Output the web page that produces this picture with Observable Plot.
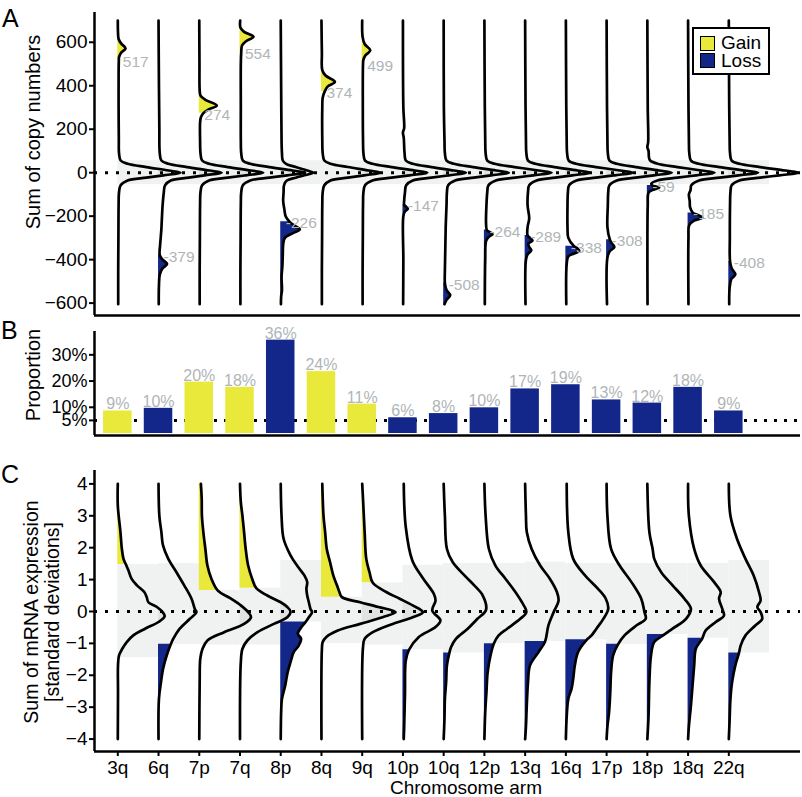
<!DOCTYPE html>
<html><head><meta charset="utf-8">
<script src="https://cdn.jsdelivr.net/npm/d3@7"></script>
<script src="https://cdn.jsdelivr.net/npm/@observablehq/plot@0.6"></script>
<style>
html,body{margin:0;padding:0;background:#fff;}
#wrap{position:relative;width:802px;height:797px;overflow:hidden;font-family:"Liberation Sans",Arial,Helvetica,sans-serif;color:#000;}
.panel{position:absolute;left:0;}
.lbl{position:absolute;white-space:nowrap;}
.rot{transform:translate(-50%,-50%) rotate(-90deg);}
.letter{font-size:25px;line-height:25px;}
.sw{position:absolute;width:15px;height:15px;box-sizing:border-box;border:1.5px solid #000;}
</style></head>
<body><div id="wrap">
<div class="panel" id="pA" style="top:0"></div>
<div class="panel" id="pB" style="top:318px"></div>
<div class="panel" id="pC" style="top:455px"></div>
<div class="lbl letter" style="left:2px;top:6px">A</div>
<div class="lbl letter" style="left:1px;top:318px">B</div>
<div class="lbl letter" style="left:1px;top:462px">C</div>
<div class="lbl rot" style="left:33px;top:132px;font-size:20px;line-height:20px">Sum of copy numbers</div>
<div class="lbl rot" style="left:33px;top:375px;font-size:20px;line-height:20px">Proportion</div>
<div class="lbl rot" style="left:31px;top:612px;font-size:19.5px;line-height:20px">Sum of mRNA expression</div>
<div class="lbl rot" style="left:52px;top:612px;font-size:19.5px;line-height:20px">[standard deviations]</div>
<div class="lbl" style="left:466px;top:779px;transform:translateX(-50%);font-size:19px;line-height:17px">Chromosome arm</div>
<div id="legend" style="position:absolute;left:692px;top:27px;width:78px;height:48px;box-sizing:border-box;border:2px solid #000;background:#fff;">
  <div class="sw" id="swGain" style="left:6px;top:7px"></div>
  <div class="sw" id="swLoss" style="left:6px;top:24px"></div>
  <div class="lbl" style="left:27px;top:5px;font-size:19px;line-height:17px">Gain</div>
  <div class="lbl" style="left:27px;top:23px;font-size:19px;line-height:17px">Loss</div>
</div>
</div>
<script>
// ---------------- data ----------------
const categories = ["3q","6q","7p","7q","8p","8q","9q","10p","10q","12p","13q","16q","17p","18p","18q","22q"];
const alteration = ["gain","loss","gain","gain","loss","gain","gain","loss","loss","loss","loss","loss","loss","loss","loss","loss"];

// Panel A: threshold (labelled) sums of copy numbers
const copyThreshold = [517,-379,274,554,-226,374,499,-147,-508,-264,-289,-338,-308,-59,-185,-408];
const copyTicks = [-600,-400,-200,0,200,400,600];
const copyBand = [-55, 55];
// density knots [value, density width in category spacings]
const copyDensity = [
 [[700,0],[645,.005],[615,.02],[595,.08],[572,.19],[552,.08],[532,.03],[517,.025],[450,.02],[300,.02],[150,.025],[90,.03],[56,.07],[41,.24],[26,.7],[10,1.25],[0,1.54],[-12,1.12],[-23,.7],[-36,.24],[-58,.07],[-90,.03],[-150,.02],[-300,.015],[-450,.01],[-605,.01]],
 [[700,0],[400,.01],[200,.02],[90,.03],[56,.07],[41,.24],[26,.7],[10,1.25],[0,1.55],[-12,1.13],[-23,.74],[-36,.3],[-58,.16],[-90,.13],[-150,.1],[-220,.08],[-260,.07],[-330,.04],[-379,.03],[-400,.1],[-420,.21],[-440,.1],[-470,.03],[-520,.01],[-605,.005]],
 [[700,0],[500,.005],[380,.01],[355,.03],[335,.15],[309,.43],[290,.22],[274,.1],[255,.04],[230,.02],[150,.02],[90,.03],[56,.07],[41,.24],[26,.7],[10,1.27],[0,1.57],[-12,1.14],[-23,.7],[-36,.24],[-58,.07],[-90,.03],[-150,.02],[-300,.015],[-450,.01],[-605,.01]],
 [[700,.005],[668,.01],[648,.1],[625,.33],[605,.15],[585,.05],[554,.03],[500,.02],[300,.02],[150,.02],[90,.03],[56,.07],[41,.25],[26,.72],[10,1.29],[0,1.6],[-12,1.16],[-23,.72],[-36,.25],[-58,.07],[-90,.03],[-150,.02],[-300,.015],[-450,.01],[-605,.01]],
 [[700,0],[400,.01],[150,.02],[90,.03],[56,.05],[41,.13],[26,.37],[10,.65],[0,.8],[-12,.58],[-23,.37],[-36,.15],[-58,.08],[-90,.07],[-130,.06],[-170,.09],[-200,.12],[-226,.22],[-245,.35],[-260,.47],[-280,.28],[-300,.1],[-330,.06],[-380,.05],[-430,.04],[-480,.02],[-540,.03],[-570,.01],[-605,.005]],
 [[700,0],[550,.01],[472,.02],[447,.1],[418,.33],[396,.15],[374,.08],[345,.03],[300,.02],[150,.02],[90,.03],[56,.07],[41,.22],[26,.65],[10,1.17],[0,1.45],[-12,1.05],[-23,.65],[-36,.22],[-58,.07],[-90,.03],[-150,.02],[-300,.015],[-450,.01],[-605,.01]],
 [[700,0],[625,.01],[592,.06],[563,.2],[540,.08],[520,.03],[499,.02],[300,.015],[150,.02],[90,.03],[56,.07],[41,.25],[26,.72],[10,1.29],[0,1.6],[-12,1.16],[-23,.72],[-36,.25],[-58,.07],[-90,.03],[-150,.02],[-300,.015],[-450,.01],[-605,.01]],
 [[700,0],[300,.01],[205,.03],[185,0],[160,.02],[90,.04],[56,.07],[41,.24],[26,.7],[10,1.25],[0,1.55],[-12,1.13],[-23,.7],[-36,.24],[-58,.08],[-90,.05],[-130,.03],[-147,.03],[-157,.08],[-166,.12],[-178,.05],[-200,.01],[-400,.01],[-605,.005]],
 [[700,0],[300,.005],[150,.02],[90,.03],[56,.07],[41,.25],[26,.72],[10,1.29],[0,1.6],[-12,1.16],[-23,.74],[-36,.28],[-58,.11],[-90,.08],[-150,.07],[-250,.05],[-350,.04],[-450,.03],[-508,.03],[-540,.07],[-564,.16],[-585,.07],[-605,.02]],
 [[700,0],[300,.01],[150,.02],[90,.03],[56,.07],[41,.25],[26,.74],[10,1.33],[0,1.65],[-12,1.2],[-23,.76],[-36,.28],[-58,.1],[-90,.07],[-150,.05],[-230,.04],[-264,.06],[-273,.13],[-283,.2],[-296,.1],[-315,.04],[-400,.02],[-605,.01]],
 [[700,0],[300,.01],[150,.02],[90,.03],[56,.07],[41,.25],[26,.72],[10,1.29],[0,1.6],[-12,1.16],[-23,.74],[-36,.28],[-58,.1],[-90,.07],[-150,.06],[-210,.1],[-250,.06],[-289,.06],[-300,.12],[-312,.18],[-326,.08],[-342,.1],[-357,.15],[-375,.06],[-400,.02],[-605,.01]],
 [[700,0],[300,.01],[150,.02],[90,.03],[56,.07],[41,.25],[26,.74],[10,1.33],[0,1.65],[-12,1.2],[-23,.74],[-36,.26],[-58,.08],[-90,.05],[-150,.04],[-250,.04],[-300,.06],[-338,.2],[-348,.28],[-360,.33],[-372,.2],[-385,.06],[-420,.02],[-605,.01]],
 [[700,0],[300,.01],[150,.02],[90,.03],[56,.07],[41,.25],[26,.72],[10,1.29],[0,1.6],[-12,1.16],[-23,.72],[-36,.25],[-58,.07],[-90,.04],[-150,.03],[-250,.02],[-308,.08],[-325,.13],[-342,.19],[-360,.08],[-390,.02],[-605,.01]],
 [[700,0],[300,.01],[140,.02],[118,0],[100,.03],[70,.04],[56,.07],[41,.25],[26,.74],[10,1.33],[0,1.65],[-12,1.2],[-23,.74],[-36,.25],[-50,.1],[-59,.12],[-68,.29],[-80,.12],[-92,.03],[-150,.01],[-605,.005]],
 [[700,0],[300,.01],[150,.02],[90,.03],[56,.07],[41,.26],[26,.77],[10,1.39],[0,1.72],[-12,1.24],[-23,.77],[-36,.27],[-58,.08],[-80,.06],[-100,.02],[-130,.04],[-160,.05],[-185,.12],[-195,.25],[-207,.35],[-220,.15],[-240,.03],[-300,.01],[-605,.01]],
 [[700,0],[300,.01],[150,.02],[90,.03],[56,.07],[41,.26],[26,.77],[10,1.39],[0,1.72],[-12,1.24],[-23,.77],[-36,.26],[-58,.07],[-90,.04],[-150,.03],[-300,.025],[-408,.03],[-440,.07],[-468,.16],[-490,.06],[-530,.02],[-605,.01]]
];

// Panel B: proportion of samples (%)
const proportion = [8.6,9.6,19.6,17.6,35.6,23.6,11.2,6.0,7.6,9.8,17.0,18.6,12.8,11.6,17.6,8.6];
const propTicks = [5,10,20,30];
const propReference = 5;

// Panel C: mRNA expression densities
const exprTicks = [-4,-3,-2,-1,0,1,2,3,4];
const exprBandLo = [-1.45,-1.03,-1.05,-1.05,-0.33,-1.0,-1.05,-1.2,-1.3,-1.01,-0.94,-0.89,-1.03,-0.72,-0.84,-1.3];
const exprBandHi = [1.47,1.5,0.66,0.73,1.6,0.45,0.9,1.45,1.5,1.5,1.55,1.5,1.5,1.5,1.5,1.6];
const exprDensity = [
 [[4,0],[3.32,0],[2.49,.065],[1.96,.1],[1.65,.14],[1.47,.2],[1.29,.26],[1.02,.34],[0.82,.47],[0.61,.65],[0.45,.71],[0.29,.75],[0.14,.96],[-0.02,1.1],[-0.15,1.15],[-0.33,1.0],[-0.54,.67],[-0.75,.38],[-0.96,.22],[-1.17,.11],[-1.38,.03],[-1.69,.005],[-2.5,.005],[-4,0]],
 [[4,0],[3.0,.02],[2.49,.07],[2.07,.11],[1.65,.24],[1.23,.44],[0.82,.63],[0.4,.81],[0.08,.89],[-0.02,.93],[-0.23,.77],[-0.54,.52],[-0.86,.36],[-1.03,.3],[-1.38,.2],[-1.8,.11],[-2.22,.06],[-2.74,.01],[-4,0]],
 [[4,.04],[3.53,.06],[3.0,.065],[2.49,.1],[1.96,.15],[1.44,.2],[1.02,.3],[0.66,.45],[0.4,.78],[0.19,1.02],[-0.02,1.2],[-0.18,1.27],[-0.39,1.1],[-0.65,.61],[-0.91,.2],[-1.17,.08],[-1.48,.025],[-2.2,.01],[-4,0]],
 [[4,0],[3.43,.02],[3.0,.06],[2.49,.1],[1.96,.14],[1.44,.2],[1.02,.3],[0.73,.4],[0.5,.67],[0.29,1.0],[0.14,1.16],[0,1.24],[-0.18,1.16],[-0.39,.83],[-0.65,.43],[-0.91,.18],[-1.17,.06],[-1.59,.02],[-4,0]],
 [[4,0],[3.0,.02],[2.28,.07],[1.76,.24],[1.44,.4],[1.13,.58],[0.92,.65],[0.71,.63],[0.5,.65],[0.29,.69],[0.08,.73],[-0.02,.77],[-0.18,.69],[-0.33,.61],[-0.54,.48],[-0.7,.42],[-0.86,.5],[-1.07,.44],[-1.27,.32],[-1.59,.24],[-1.9,.17],[-2.32,.11],[-2.74,.03],[-3.16,.01],[-4,0]],
 [[4,.02],[3.0,.05],[2.49,.09],[1.96,.13],[1.55,.21],[1.13,.29],[0.82,.38],[0.61,.44],[0.45,.5],[0.29,.95],[0.14,1.4],[-0.02,1.82],[-0.18,1.5],[-0.39,.95],[-0.6,.4],[-0.8,.12],[-0.96,.03],[-1.2,.01],[-4,0]],
 [[4,0],[3.53,.02],[2.49,.06],[1.65,.1],[1.23,.18],[0.9,.26],[0.61,.59],[0.4,.92],[0.19,1.24],[-0.02,1.49],[-0.18,1.24],[-0.39,.75],[-0.65,.26],[-0.86,.06],[-1.12,.02],[-4,0]],
 [[4,.02],[2.64,.07],[1.6,.23],[1.08,.47],[0.55,.76],[0.34,.8],[0.03,.72],[-0.28,.92],[-0.49,.8],[-0.8,.39],[-1.2,.15],[-1.54,.07],[-2.58,.05],[-3.63,.03],[-4,.02]],
 [[4,0],[3.0,.03],[1.96,.08],[1.55,.22],[1.13,.51],[0.82,.75],[0.5,.96],[0.05,1.04],[-0.23,.83],[-0.54,.59],[-0.86,.3],[-1.12,.18],[-1.3,.14],[-1.69,.08],[-2.22,.06],[-2.74,.03],[-3.36,.02],[-4,0]],
 [[4,0],[3.0,.03],[1.96,.11],[1.44,.27],[1.02,.52],[0.61,.76],[0.29,.92],[-0.02,1.03],[-0.23,.88],[-0.54,.56],[-0.75,.35],[-1.01,.23],[-1.38,.15],[-1.9,.08],[-2.53,.05],[-3.16,.02],[-4,0]],
 [[4,0],[3.0,.02],[2.49,.04],[1.96,.16],[1.44,.37],[1.02,.61],[0.61,.78],[0.34,.82],[-0.02,.7],[-0.44,.57],[-0.94,.49],[-1.27,.33],[-1.69,.12],[-2.22,.07],[-2.95,.04],[-3.6,.02],[-4,0]],
 [[4,.02],[2.49,.06],[1.65,.18],[1.13,.47],[0.71,.79],[0.4,.98],[0.08,1.04],[-0.23,.92],[-0.54,.75],[-0.75,.63],[-0.89,.51],[-1.27,.3],[-1.69,.22],[-2.11,.18],[-2.42,.14],[-2.74,.06],[-3.3,.02],[-4,0]],
 [[4,0],[3.0,.02],[1.96,.11],[1.44,.32],[0.92,.61],[0.4,.85],[-0.02,.93],[-0.23,.96],[-0.44,.73],[-0.75,.44],[-1.03,.28],[-1.38,.16],[-1.9,.11],[-2.53,.09],[-3.16,.06],[-3.6,.02],[-4,0]],
 [[4,0],[2.49,.05],[1.96,.13],[1.65,.17],[1.23,.34],[0.82,.62],[0.4,.91],[0.08,1.07],[-0.23,.95],[-0.54,.62],[-0.72,.42],[-0.96,.17],[-1.38,.09],[-2.22,.05],[-3.26,.03],[-4,0]],
 [[4,0],[3.0,.02],[1.96,.15],[1.44,.31],[0.92,.64],[0.61,.8],[0.4,.76],[0.08,.84],[-0.13,.88],[-0.33,.68],[-0.6,.43],[-0.84,.35],[-1.17,.19],[-1.69,.15],[-2.32,.11],[-2.95,.07],[-3.6,.02],[-4,0]],
 [[4,0],[3.0,.04],[2.28,.2],[1.65,.41],[1.13,.61],[0.61,.74],[0.34,.78],[0.14,.7],[-0.02,.78],[-0.23,.82],[-0.44,.65],[-0.75,.41],[-1.07,.29],[-1.3,.25],[-1.69,.16],[-2.22,.08],[-2.74,.04],[-3.4,.02],[-4,0]]
];

// ---------------- styling / layout ----------------
const YELLOW = "#e9e93b", NAVY = "#13278a", GREY_TXT = "#b0b5b8", BAND = "#f0f1f1", TIP = "#e1e2e2";
const LINE = 2.7;
const xDomain = [-0.572, 16.76];
const copyDomain = [-657, 737];
const propDomain = [-0.76, 38.9];
const exprDomain = [-4.39, 4.42];
const baseStyle = {fontFamily: '"Liberation Sans", Arial, Helvetica, sans-serif', fontSize: "19px", color: "#000", background: "transparent", overflow: "visible"};
document.getElementById("swGain").style.background = YELLOW;
document.getElementById("swLoss").style.background = NAVY;

const idx = categories.map((_, i) => i);
const isGain = i => alteration[i] === "gain";
const toRows = dens => dens.flatMap((knots, i) => knots.map(([v, w]) => ({i, cat: categories[i], v, w})));
const tailRows = (dens, thr) => dens.flatMap((knots, i) =>
  knots.filter(([v]) => isGain(i) ? v >= thr[i] : v <= thr[i]).map(([v, w]) => ({i, cat: categories[i], v, w, g: isGain(i)})));
const tipRows = dens => dens.flatMap((knots, i) =>
  (i < categories.length - 1 && knots.some(([, w]) => w > 1)) ? knots.map(([v, w]) => ({i, cat: categories[i], v, w})) : []);

function densityMarks(dens, thr, tipKnots) {
  const rows = toRows(dens), tails = tailRows(dens, thr), tips = tipRows(tipKnots);
  return {
    tips: Plot.areaX(tips, {y: "v", x1: d => d.i + 1, x2: d => d.i + Math.max(1, d.w), z: "cat", curve: "catmull-rom", fill: TIP}),
    gain: Plot.areaX(tails.filter(d => d.g), {y: "v", x1: "i", x2: d => d.i + d.w, z: "cat", curve: "catmull-rom", fill: YELLOW}),
    loss: Plot.areaX(tails.filter(d => !d.g), {y: "v", x1: "i", x2: d => d.i + d.w, z: "cat", curve: "catmull-rom", fill: NAVY}),
    line: Plot.line(rows, {x: d => d.i + d.w, y: "v", z: "cat", curve: "catmull-rom", stroke: "#000", strokeWidth: LINE, strokeLinejoin: "round"})
  };
}

// ---------------- Panel A ----------------
const dA = densityMarks(copyDensity, copyThreshold, copyDensity.map(k => k.filter(([v]) => Math.abs(v) <= 60)));
const plotA = Plot.plot({
  width: 802, height: 318, marginLeft: 94, marginRight: 2, marginTop: 12, marginBottom: 3,
  style: baseStyle,
  x: {domain: xDomain, axis: null},
  y: {domain: copyDomain},
  marks: [
    Plot.rect(idx, {x1: d => d, x2: d => d + 1, y1: copyBand[0], y2: copyBand[1], fill: BAND}),
    dA.tips, dA.gain, dA.loss,
    Plot.ruleY([0], {stroke: "#000", strokeWidth: 3, strokeDasharray: "3,8"}),
    dA.line,
    Plot.text(idx, {x: d => d, y: d => copyThreshold[d], text: d => String(copyThreshold[d]), textAnchor: "start", dx: 5, dy: 1.5, fill: GREY_TXT, fontSize: 15.5}),
    Plot.ruleX([xDomain[0]], {stroke: "#000", strokeWidth: 2.5}),
    Plot.ruleY([copyDomain[0]], {stroke: "#000", strokeWidth: 2.5}),
    Plot.axisY(copyTicks, {tickSize: 5, tickPadding: 2, fontSize: 19, strokeWidth: 2, label: null})
  ]
});
document.getElementById("pA").append(plotA);

// ---------------- Panel B ----------------
const plotB = Plot.plot({
  width: 802, height: 125, marginLeft: 94, marginRight: 2, marginTop: 13, marginBottom: 8,
  style: baseStyle,
  x: {domain: xDomain, axis: null},
  y: {domain: propDomain},
  marks: [
    Plot.ruleY([propReference], {stroke: "#000", strokeWidth: 3, strokeDasharray: "3,7"}),
    Plot.rect(idx.filter(isGain), {x1: d => d - 0.35, x2: d => d + 0.35, y1: 0, y2: d => proportion[d], fill: YELLOW}),
    Plot.rect(idx.filter(i => !isGain(i)), {x1: d => d - 0.35, x2: d => d + 0.35, y1: 0, y2: d => proportion[d], fill: NAVY}),
    Plot.text(idx, {x: d => d, y: d => proportion[d], text: d => Math.round(proportion[d]) + "%", lineAnchor: "bottom", dy: -1.5, fill: GREY_TXT, fontSize: 16}),
    Plot.ruleX([xDomain[0]], {stroke: "#000", strokeWidth: 2.5}),
    Plot.ruleY([propDomain[0]], {stroke: "#000", strokeWidth: 2.5}),
    Plot.axisY(propTicks, {tickFormat: d => d + "%", tickSize: 5, tickPadding: 2, fontSize: 18, strokeWidth: 2, label: null})
  ]
});
document.getElementById("pB").append(plotB);

// ---------------- Panel C ----------------
const exprThreshold = idx.map(i => isGain(i) ? exprBandHi[i] : exprBandLo[i]);
const dC = densityMarks(exprDensity, exprThreshold, exprDensity);
const plotC = Plot.plot({
  width: 802, height: 342, marginLeft: 94, marginRight: 2, marginTop: 15, marginBottom: 46,
  style: baseStyle,
  x: {domain: xDomain},
  y: {domain: exprDomain},
  marks: [
    Plot.rect(idx, {x1: d => d, x2: d => d + 1, y1: d => exprBandLo[d], y2: d => exprBandHi[d], fill: BAND}),
    dC.tips, dC.gain, dC.loss,
    Plot.ruleY([0], {stroke: "#000", strokeWidth: 3, strokeDasharray: "3,8"}),
    dC.line,
    Plot.ruleX([xDomain[0]], {stroke: "#000", strokeWidth: 2.5}),
    Plot.ruleY([exprDomain[0]], {stroke: "#000", strokeWidth: 2.5}),
    Plot.axisY(exprTicks, {tickSize: 5, tickPadding: 2, fontSize: 19, strokeWidth: 2, label: null}),
    Plot.axisX(idx, {tickFormat: d => categories[d], tickSize: 5, tickPadding: 4, fontSize: 19, strokeWidth: 2, label: null})
  ]
});
document.getElementById("pC").append(plotC);
</script>
</body></html>
